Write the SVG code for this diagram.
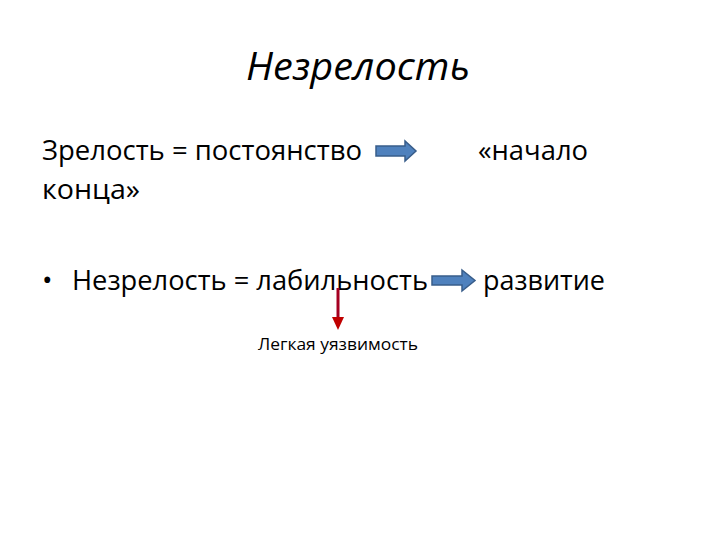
<svg xmlns="http://www.w3.org/2000/svg" width="720" height="540" viewBox="0 0 720 540">
<style>
text{font-family:"Open Sans","Liberation Sans",sans-serif;fill:#000}
.t{font-size:28px}
.blue{fill:#4f81bd;stroke:#385d8a;stroke-width:1.5}
</style>
<defs>
<marker id="red" markerWidth="14" markerHeight="14" refX="2" refY="7" orient="auto" markerUnits="userSpaceOnUse" viewBox="0 0 14 14">
<path d="M0,1 L13,7 L0,13 z" fill="#c00000"/>
</marker>
</defs>
<rect width="720" height="540" fill="#fff"/>
<g id="title"><text x="358" y="80" text-anchor="middle" font-size="38" font-style="italic" textLength="224" lengthAdjust="spacingAndGlyphs">Незрелость</text></g>
<g id="line1">
<text class="t" x="42" y="160" textLength="320" lengthAdjust="spacingAndGlyphs">Зрелость = постоянство</text>
<text class="t" x="42" y="199" textLength="98" lengthAdjust="spacingAndGlyphs">конца»</text>
<text class="t" x="478" y="160" textLength="110" lengthAdjust="spacingAndGlyphs">«начало</text>
</g>
<g id="line2">
<text class="t" x="42" y="290">•</text>
<text class="t" x="72" y="290" textLength="356" lengthAdjust="spacingAndGlyphs">Незрелость = лабильность</text>
<text class="t" x="483" y="290" textLength="122" lengthAdjust="spacingAndGlyphs">развитие</text>
</g>
<g id="note"><text x="258" y="350" font-size="16" textLength="160" lengthAdjust="spacingAndGlyphs">Легкая уязвимость</text></g>
<g id="connectors">
<path class="blue" d="M376,146 L405,146 L405,141 L416,151 L405,161 L405,156 L376,156 z"/>
<path class="blue" d="M432,276 L462,276 L462,270 L475,280.5 L462,291 L462,285 L432,285 z"/>
<line x1="338" y1="288" x2="338" y2="319" stroke="#a50021" stroke-width="3" marker-end="url(#red)"/>
</g>
</svg>
